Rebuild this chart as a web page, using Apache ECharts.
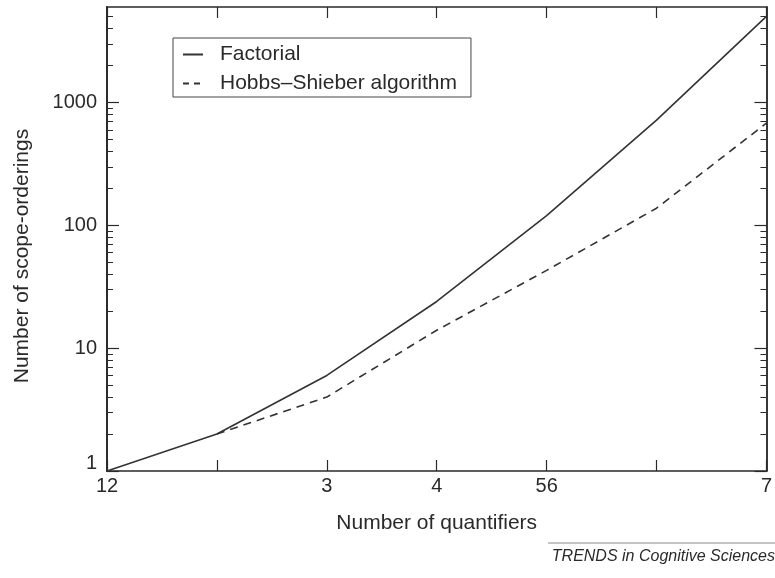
<!DOCTYPE html>
<html>
<head>
<meta charset="utf-8">
<script src="https://cdn.jsdelivr.net/npm/echarts@6/dist/echarts.min.js"></script>
<style>
  html, body { margin: 0; padding: 0; background: #fff; }
  #chart { width: 775px; height: 578px; }
</style>
</head>
<body>
<div id="chart"></div>
<script>
// ---- data ----
const quantifiers = [1, 2, 3, 4, 5, 6, 7];
const factorial = [1, 2, 6, 24, 120, 720, 5040];
const hobbsShieber = [null, 2, 4, 14, 43, 138, 680];
const xTickLabels = { 1: '12', 3: '3', 4: '4', 5: '56', 7: '7' };
const yMajorTicks = [1, 10, 100, 1000];
const yMinorTicks = [2, 3, 4, 5, 6, 7, 8, 9, 20, 30, 40, 50, 60, 70, 80, 90,
  200, 300, 400, 500, 600, 700, 800, 900, 2000, 3000, 4000, 5000];
const seriesNames = ['Factorial', 'Hobbs\u2013Shieber algorithm'];
const yMin = 1, yMax = 6000;

const FONT = '"Liberation Sans", Arial, Helvetica, sans-serif';
const INK = '#2a2a2a';

const chart = echarts.init(document.getElementById('chart'), null, { renderer: 'canvas' });

// tick-only axes, linear in log10 space so they line up with the log axis
function tickAxis(pos, values, len, width) {
  return {
    type: 'value', position: pos,
    min: Math.log10(yMin), max: Math.log10(yMax),
    axisLine: { show: true, onZero: false, lineStyle: { color: INK, width: 1.5 } },
    axisTick: { show: true, inside: true, length: len, customValues: values.map(v => Math.log10(v)),
      lineStyle: { color: INK, width: width } },
    axisLabel: { show: false },
    splitLine: { show: false }
  };
}

const option = {
  backgroundColor: '#ffffff',
  animation: false,
  grid: { left: 107, right: 4, top: 7, bottom: 107, containLabel: false },
  legend: {
    orient: 'vertical', left: 173, top: 38,
    padding: [6, 14, 3, 9],
    itemGap: 8, itemWidth: 20, itemHeight: 14,
    borderColor: '#444', borderWidth: 1,
    itemStyle: { opacity: 0 },
    textStyle: { fontFamily: FONT, fontSize: 21, color: INK, padding: [0, 0, 0, 12] },
    data: [
      { name: seriesNames[0], itemStyle: { opacity: 0 } },
      { name: seriesNames[1], itemStyle: { opacity: 0 }, lineStyle: { type: [6, 5] } }
    ]
  },
  xAxis: [
    {
      type: 'value', min: 1, max: 7, interval: 1, position: 'bottom',
      name: 'Number of quantifiers', nameLocation: 'middle', nameGap: 42,
      nameTextStyle: { fontFamily: FONT, fontSize: 21, color: INK },
      axisLine: { show: true, onZero: false, lineStyle: { color: INK, width: 1.5 } },
      axisTick: { show: true, inside: true, length: 11, lineStyle: { color: INK, width: 1.2 } },
      axisLabel: {
        fontFamily: FONT, fontSize: 20, color: INK, margin: 5,
        showMinLabel: true, showMaxLabel: true,
        formatter: v => (xTickLabels[v] !== undefined ? xTickLabels[v] : '')
      },
      splitLine: { show: false }
    },
    {
      type: 'value', min: 1, max: 7, interval: 1, position: 'top',
      axisLine: { show: true, onZero: false, lineStyle: { color: INK, width: 1.5 } },
      axisTick: { show: true, inside: true, length: 11, lineStyle: { color: INK, width: 1.2 } },
      axisLabel: { show: false },
      splitLine: { show: false }
    }
  ],
  yAxis: [
    {
      type: 'log', logBase: 10, min: yMin, max: yMax, position: 'left',
      name: 'Number of scope-orderings', nameLocation: 'middle', nameGap: 74,
      nameTextStyle: { fontFamily: FONT, fontSize: 21, color: INK, padding: [0, 34, 0, 0] },
      axisLine: { show: true, onZero: false, lineStyle: { color: INK, width: 1.5 } },
      axisTick: { show: false },
      minorTick: { show: false },
      splitLine: { show: false },
      axisLabel: {
        fontFamily: FONT, fontSize: 20, color: INK, margin: 10,
        customValues: yMajorTicks,
        formatter: v => (v === 1 ? '{up|1}' : String(v)),
        rich: { up: { fontFamily: FONT, fontSize: 20, color: INK, padding: [0, 0, 16, 0] } }
      }
    },
    tickAxis('left', yMajorTicks, 12, 1.2),
    tickAxis('left', yMinorTicks, 6, 1),
    tickAxis('right', yMajorTicks, 12, 1.2),
    tickAxis('right', yMinorTicks, 6, 1)
  ],
  graphic: [
    {
      type: 'line', silent: true,
      shape: { x1: 548, y1: 543, x2: 775, y2: 543 },
      style: { stroke: '#8a8a8a', lineWidth: 1 }
    },
    {
      type: 'text', silent: true, right: 0, top: 549,
      style: {
        text: 'TRENDS in Cognitive Sciences',
        font: 'italic 16px ' + FONT, fill: INK
      }
    }
  ],
  series: [
    {
      name: seriesNames[0], type: 'line', xAxisIndex: 0, yAxisIndex: 0,
      data: quantifiers.map((q, i) => [q, factorial[i]]),
      showSymbol: false, symbol: 'none', z: 3,
      lineStyle: { color: '#333', width: 1.6, type: 'solid' },
      itemStyle: { color: '#333' }
    },
    {
      name: seriesNames[1], type: 'line', xAxisIndex: 0, yAxisIndex: 0,
      data: quantifiers.map((q, i) => [q, hobbsShieber[i]]).filter(d => d[1] !== null),
      showSymbol: false, symbol: 'none', z: 2,
      lineStyle: { color: '#333', width: 1.6, type: [8, 6] },
      itemStyle: { color: '#333' }
    }
  ]
};

chart.setOption(option);
</script>
</body>
</html>
